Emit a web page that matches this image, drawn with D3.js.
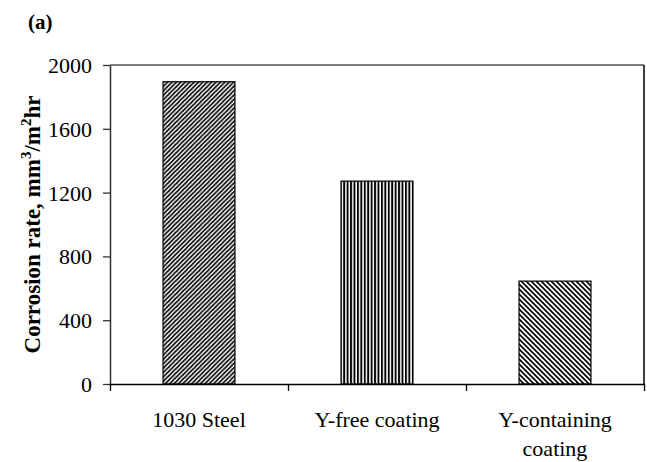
<!DOCTYPE html>
<html>
<head>
<meta charset="utf-8">
<script src="https://cdn.jsdelivr.net/npm/d3@7"></script>
<style>
  body { margin: 0; background: #fff; }
  svg { display: block; }
  text { font-family: "Liberation Serif", Tinos, "Times New Roman", Times, "DejaVu Serif", serif; fill: #000; }
</style>
</head>
<body>
<div id="chart"></div>
<script>
var categories = ["1030 Steel", "Y-free coating", "Y-containing coating"];
var labelLines = [["1030 Steel"], ["Y-free coating"], ["Y-containing", "coating"]];
var rates = [1895, 1272, 645];
var patterns = ["diagUp", "vert", "diagDown"];
var yTicks = [0, 400, 800, 1200, 1600, 2000];

var W = 647, H = 462
    , margin = {top: 65, right: 3, bottom: 78, left: 110}
    , width = W - margin.left - margin.right
    , height = H - margin.top - margin.bottom;

var svg = d3.select("#chart").append("svg")
    .attr("width", W)
    .attr("height", H);

// hatch fills
var defs = svg.append("defs");

var pUp = defs.append("pattern")
    .attr("id", "diagUp")
    .attr("patternUnits", "userSpaceOnUse")
    .attr("width", 4.4).attr("height", 4.4);
pUp.append("path")
    .attr("d", "M-1.1,1.1 L1.1,-1.1 M0,4.4 L4.4,0 M3.3,5.5 L5.5,3.3")
    .attr("stroke", "#000").attr("stroke-width", 1.7);

var pV = defs.append("pattern")
    .attr("id", "vert")
    .attr("patternUnits", "userSpaceOnUse")
    .attr("width", 3.43).attr("height", 10);
pV.append("rect")
    .attr("x", 0).attr("y", 0)
    .attr("width", 1.9).attr("height", 10)
    .attr("fill", "#000");

var pDown = defs.append("pattern")
    .attr("id", "diagDown")
    .attr("patternUnits", "userSpaceOnUse")
    .attr("width", 5).attr("height", 5);
pDown.append("path")
    .attr("d", "M-1.25,3.75 L1.25,6.25 M0,0 L5,5 M3.75,-1.25 L6.25,1.25")
    .attr("stroke", "#000").attr("stroke-width", 1.7);

var g = svg.append("g")
    .attr("transform", "translate(" + margin.left + "," + margin.top + ")");

var x = d3.scaleBand()
    .domain(categories)
    .range([0, width])
    .paddingInner(0.596)
    .paddingOuter(0.298);

var xSlots = d3.scaleBand()
    .domain(categories)
    .range([0, width]);

var y = d3.scaleLinear()
    .domain([0, 2000])
    .range([height, 0]);

// frame: top grey line, right black line
g.append("line")
    .attr("x1", 0).attr("x2", width)
    .attr("y1", 0).attr("y2", 0)
    .attr("stroke", "#808080").attr("stroke-width", 2);
g.append("line")
    .attr("x1", width).attr("x2", width)
    .attr("y1", 0).attr("y2", height)
    .attr("stroke", "#000").attr("stroke-width", 1.5);

// bars
g.append("g").selectAll("rect")
    .data(categories)
    .enter().append("rect")
    .attr("x", d => x(d))
    .attr("y", (d, i) => y(rates[i]))
    .attr("width", x.bandwidth())
    .attr("height", (d, i) => height - y(rates[i]))
    .attr("fill", (d, i) => "url(#" + patterns[i] + ")")
    .attr("stroke", "#000")
    .attr("stroke-width", 1.2);

// y axis
var yAxis = d3.axisLeft(y)
    .tickValues(yTicks)
    .tickSizeInner(7)
    .tickSizeOuter(0)
    .tickPadding(11)
    .tickFormat(d3.format("d"));

var yg = g.append("g").call(yAxis).attr("font-family", null);
yg.select(".domain").attr("stroke", "#333").attr("stroke-width", 1.5);
yg.selectAll(".tick line").attr("stroke", "#333").attr("stroke-width", 1.3);
yg.selectAll(".tick text")
    .attr("font-size", 22)
    .attr("dy", "0.34em");

// x axis: ticks between categories
var xTickPos = categories.map(c => xSlots(c)).concat([width]);
var xAxis = d3.axisBottom(d3.scaleLinear().domain([0, width]).range([0, width]))
    .tickValues(xTickPos)
    .tickSizeInner(7)
    .tickSizeOuter(0)
    .tickFormat("");

var xg = g.append("g")
    .attr("transform", "translate(0," + height + ")")
    .call(xAxis);
xg.select(".domain").attr("stroke", "#000").attr("stroke-width", 1.5);
xg.selectAll(".tick line").attr("stroke", "#000").attr("stroke-width", 1.3);

// category labels
var lab = g.append("g").selectAll("text")
    .data(categories)
    .enter().append("text")
    .attr("x", d => x(d) + x.bandwidth() / 2)
    .attr("y", height + 43)
    .attr("text-anchor", "middle")
    .attr("font-size", 22);

lab.each(function(d, i) {
    var t = d3.select(this);
    labelLines[i].forEach(function(line, j) {
        t.append("tspan")
            .attr("x", x(d) + x.bandwidth() / 2)
            .attr("dy", j === 0 ? 0 : 29)
            .text(line);
    });
});

// y axis title
var yt = svg.append("text")
    .attr("transform", "translate(40," + (margin.top + height / 2) + ") rotate(-90)")
    .attr("text-anchor", "middle")
    .attr("font-size", 23)
    .attr("font-weight", "bold");
yt.append("tspan").text("Corrosion rate, mm");
yt.append("tspan").attr("font-size", 15).attr("dy", -9).text("3");
yt.append("tspan").attr("dy", 9).text("/m");
yt.append("tspan").attr("font-size", 15).attr("dy", -9).text("2");
yt.append("tspan").attr("dy", 9).text("hr");

// panel tag
svg.append("text")
    .attr("x", 28)
    .attr("y", 29)
    .attr("font-size", 21)
    .attr("font-weight", "bold")
    .text("(a)");
</script>
</body>
</html>
